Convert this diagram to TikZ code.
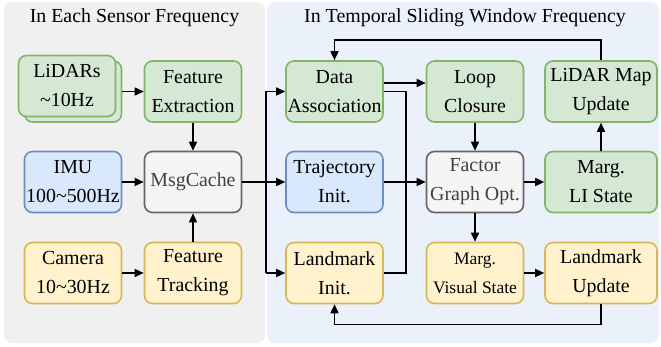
\documentclass[tikz,border=0pt]{standalone}
\usepackage{fontspec}
\setmainfont{Liberation Serif}
\usetikzlibrary{arrows.meta}
\definecolor{gfill}{HTML}{D5E8D4}\definecolor{gline}{HTML}{82B366}
\definecolor{bfill}{HTML}{DAE8FC}\definecolor{bline}{HTML}{6C8EBF}
\definecolor{yfill}{HTML}{FFF2CC}\definecolor{yline}{HTML}{D6B656}
\definecolor{kfill}{HTML}{F5F5F5}\definecolor{kline}{HTML}{666666}
\definecolor{ktext}{HTML}{404040}
\definecolor{leftbg}{HTML}{F0F0F0}\definecolor{rightbg}{HTML}{EAF1FB}
\newcommand{\boxfont}{\fontsize{19.9}{29}\selectfont}
\newcommand{\smallboxfont}{\fontsize{17.5}{29}\selectfont}
\tikzset{
  blk/.style={rounded corners=8pt, line width=1.6pt, minimum width=97pt,
    minimum height=61pt, inner sep=0pt, align=center, font=\boxfont},
  wide/.style={minimum width=112pt},
  gbox/.style={blk, fill=gfill, draw=gline},
  bbox/.style={blk, fill=bfill, draw=bline},
  ybox/.style={blk, fill=yfill, draw=yline},
  kbox/.style={blk, fill=kfill, draw=kline, text=ktext},
  conn/.style={line width=1.6pt, -{Triangle[length=9pt,width=8pt]}},
  plain/.style={line width=1.6pt},
  panel/.style={rounded corners=8pt},
  ttl/.style={font=\boxfont, inner sep=0pt}
}
\begin{document}
\begin{tikzpicture}[x=1pt, y=-1pt]
\useasboundingbox (0,0) rectangle (661,347);
% background panels
\fill[leftbg, panel] (4,2) rectangle (265,343);
\fill[rightbg, panel] (267,2) rectangle (659,343);
\node[ttl] (t1) at (134.5,18) {In Each Sensor Frequency};
\node[ttl] (t2) at (465,18) {In Temporal Sliding Window Frequency};

% sensor-rate modules
\node[gbox] (lidb) at (73,91.5) {};
\node[gbox] (lid) at (67,86) {LiDARs\\\textasciitilde10Hz};
\node[gbox] (fe) at (193,91.5) {Feature\\Extraction};
\node[bbox] (imu) at (73,182) {IMU\\100\textasciitilde500Hz};
\node[kbox] (mc) at (193,182) {MsgCache};
\node[ybox] (cam) at (73,273) {Camera\\10\textasciitilde30Hz};
\node[ybox] (ft) at (193,273) {Feature\\Tracking};

% sliding-window modules
\node[gbox] (da) at (334.5,91.5) {Data\\Association};
\node[gbox] (lc) at (475,91.5) {Loop\\Closure};
\node[gbox, wide] (lmu) at (601,91.5) {LiDAR Map\\Update};
\node[bbox] (ti) at (334.5,182) {Trajectory\\Init.};
\node[kbox] (fg) at (475,182) {Factor\\Graph Opt.};
\node[gbox, wide] (mli) at (601,182) {Marg.\\LI State};
\node[ybox] (li) at (334.5,273) {Landmark\\Init.};
\node[ybox, font=\smallboxfont] (mvs) at (475,273) {Marg.\\Visual State};
\node[ybox, wide] (lu) at (601,273) {Landmark\\Update};

% junction points
\coordinate (split) at (266,182);
\coordinate (merge) at (406,182);

% left panel connectors
\draw[conn] (lidb.east |- fe.west) -- (fe.west);
\draw[conn] (fe.south) -- (mc.north);
\draw[conn] (imu.east) -- (mc.west);
\draw[conn] (cam.east) -- (ft.west);
\draw[conn] (ft.north) -- (mc.south);

% MsgCache fan-out
\draw[plain, line width=2.2pt] (mc.east) -- (split);
\draw[plain] (split |- da.west) -- (split |- li.west);
\draw[conn] (split |- da.west) -- (da.west);
\draw[conn] (split) -- (ti.west);
\draw[conn] (split |- li.west) -- (li.west);

% into the factor graph
\draw[conn] ([yshift=8.5pt]da.east) -- ([yshift=8.5pt]lc.west);
\draw[plain] (da.east) -- (merge |- da.east) -- (merge |- li.east) -- (li.east);
\draw[conn] (ti.east) -- (fg.west);
\draw[conn] (lc.south) -- (fg.north);
\draw[conn] (fg.east) -- (mli.west);
\draw[conn] (fg.south) -- (mvs.north);
\draw[conn] (mli.north) -- (lmu.south);
\draw[conn] (mvs.east) -- (lu.west);

% feedback loops
\draw[conn] (lmu.north) -- ++(0,-20) -| (da.north);
\draw[conn] (lu.south) -- ++(0,20) -| (li.south);
\end{tikzpicture}
\end{document}
